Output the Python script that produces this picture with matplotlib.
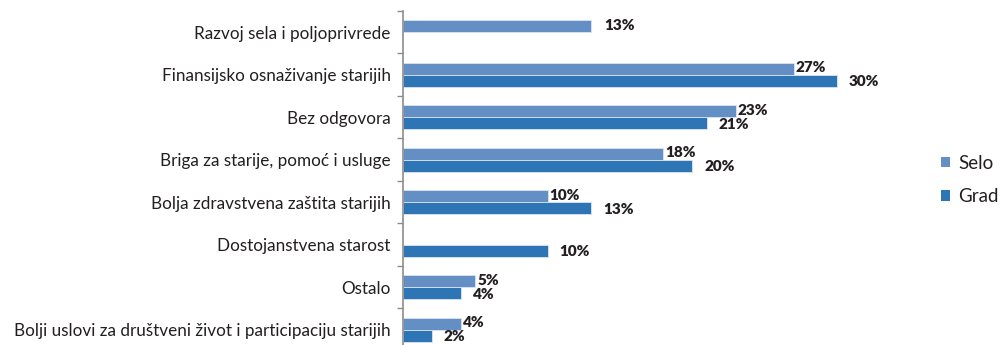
import matplotlib
matplotlib.use("Agg")
import matplotlib.pyplot as plt
from matplotlib.patches import Patch
from matplotlib.ticker import FixedLocator
import numpy as np

categories = [
    "Razvoj sela i poljoprivrede",
    "Finansijsko osnaživanje starijih",
    "Bez odgovora",
    "Briga za starije, pomoć i usluge",
    "Bolja zdravstvena zaštita starijih",
    "Dostojanstvena starost",
    "Ostalo",
    "Bolji uslovi za društveni život i participaciju starijih",
]
selo = [13, 27, 23, 18, 10, None, 5, 4]
grad = [None, 30, 21, 20, 13, 10, 4, 2]
series_names = ["Selo", "Grad"]

SELO_COLOR = "#648fc4"
GRAD_COLOR = "#2e75b6"
TEXT_COLOR = "#231f20"
AXIS_COLOR = "#8c8c8c"

plt.rcParams["font.family"] = ["Lato", "DejaVu Sans"]

W, H = 1000, 345
fig = plt.figure(figsize=(W / 100, H / 100), dpi=100)
ax_left, ax_top_px = 403, 11
cat_px = 42.5
n = len(categories)
ax_w_px = 35 * 14.47
ax_h_px = cat_px * n
ax = fig.add_axes([ax_left / W, 1 - (ax_top_px + ax_h_px) / H, ax_w_px / W, ax_h_px / H])

y = np.arange(n)
bar_h = 0.28


def draw_series(values, offset, color):
    idx = [i for i, v in enumerate(values) if v is not None]
    vals = [values[i] for i in idx]
    ax.barh(y[idx] + offset, vals, height=bar_h, color=color,
            edgecolor="#dbe5f1", linewidth=0.6)
    return idx, vals


si, sv = draw_series(selo, -bar_h / 2, SELO_COLOR)
gi, gv = draw_series(grad, bar_h / 2, GRAD_COLOR)

px = 1 / 14.47  # data units per pixel along x
for i, v in zip(si, sv):
    single = grad[i] is None
    ax.text(v + (13 if single else 2) * px, y[i] - bar_h / 2 - 0.03, f"{v}%",
            va="center", ha="left", fontsize=11, fontweight="heavy", color=TEXT_COLOR)
for i, v in zip(gi, gv):
    ax.text(v + 12 * px, y[i] + bar_h / 2 + 0.03, f"{v}%",
            va="center", ha="left", fontsize=11, fontweight="heavy", color=TEXT_COLOR)

ax.set_xlim(0, 35)
ax.set_ylim(n - 0.5, -0.5)
ax.set_yticks(y)
ax.set_yticklabels(categories, fontsize=12.3, color=TEXT_COLOR)
ax.yaxis.set_minor_locator(FixedLocator(np.arange(-0.5, n, 1.0)))
ax.tick_params(axis="y", which="major", length=0, pad=9)
ax.tick_params(axis="y", which="minor", length=4, width=1, color=AXIS_COLOR)
ax.set_xticks([])
for s in ["top", "right", "bottom"]:
    ax.spines[s].set_visible(False)
ax.spines["left"].set_color(AXIS_COLOR)
ax.spines["left"].set_linewidth(1.2)

handles = [Patch(facecolor=SELO_COLOR, edgecolor="none"),
           Patch(facecolor=GRAD_COLOR, edgecolor="none")]
leg = fig.legend(handles, series_names, loc="center left",
                 bbox_to_anchor=(941 / W, 1 - 180 / H), frameon=False,
                 fontsize=13.5, handlelength=0.5, handleheight=0.5,
                 handletextpad=0.4, labelspacing=0.9, borderaxespad=0,
                 borderpad=0)
for t in leg.get_texts():
    t.set_color(TEXT_COLOR)

fig.savefig("out.png", dpi=100, facecolor="white")
